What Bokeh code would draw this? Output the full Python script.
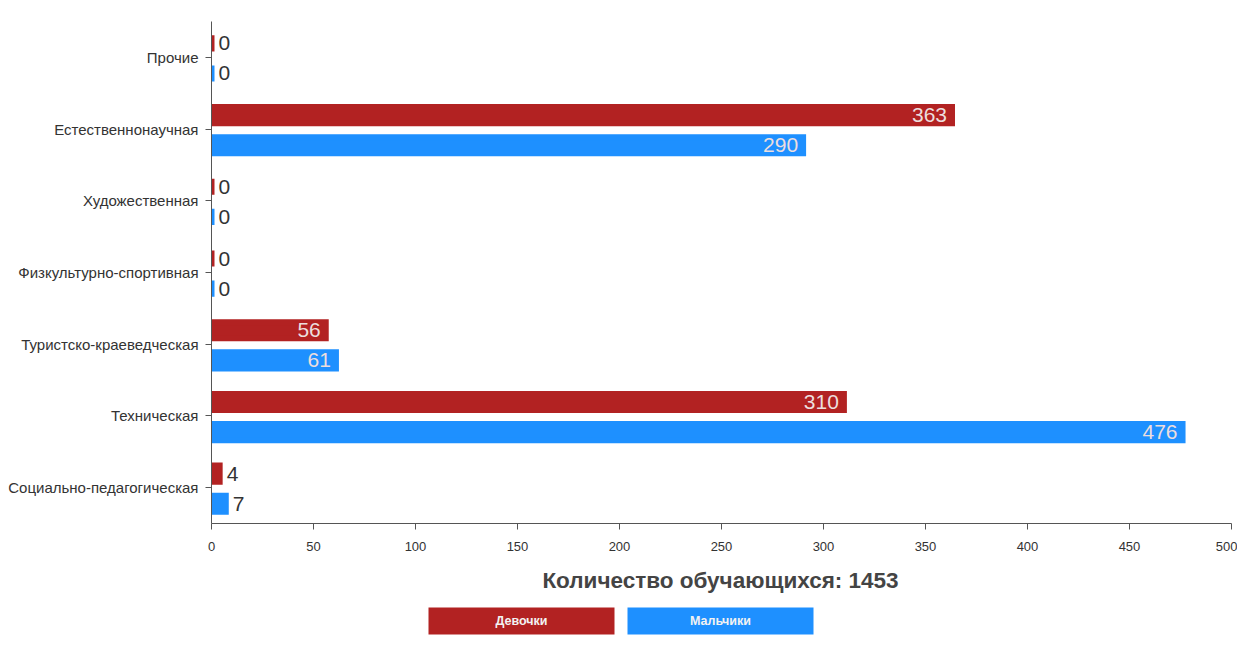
from bokeh.plotting import figure
from bokeh.models import ColumnDataSource, FactorRange, Range1d, FixedTicker
from bokeh.transform import dodge
from bokeh.layouts import column
from bokeh.embed import file_html
from bokeh.resources import INLINE
from bokeh.core.properties import value

# ---------------- data ----------------
categories = ["Прочие", "Естественнонаучная", "Художественная",
              "Физкультурно-спортивная", "Туристско-краеведческая",
              "Техническая", "Социально-педагогическая"]
girls = [0, 363, 0, 0, 56, 310, 4]
boys = [0, 290, 0, 0, 61, 476, 7]
series_names = ["Девочки", "Мальчики"]
series_colors = ["#B22222", "#1E90FF"]
x_ticks = [0, 50, 100, 150, 200, 250, 300, 350, 400, 450, 500]
title_text = "Количество обучающихся: 1453"

FONT = "Liberation Sans"

FRAME_L, FRAME_R = 211, 1231
p = figure(
    y_range=FactorRange(*list(reversed(categories))),
    x_range=Range1d(0, 500),
    width=1237, height=558,
    min_border_left=FRAME_L, min_border_right=1237 - FRAME_R,
    min_border_top=21, min_border_bottom=35,
    output_backend="svg", toolbar_location=None,
)
p.outline_line_color = None
p.xgrid.visible = False
p.ygrid.visible = False

offsets = [0.195, -0.225]
for name, vals, color, off in zip(series_names, [girls, boys], series_colors, offsets):
    inside = [v > 20 for v in vals]
    src = ColumnDataSource(dict(
        cat=categories,
        val=vals,
        label=[str(v) for v in vals],
        align=["right" if i else "left" for i in inside],
        xoff=[-5 if i else 7 for i in inside],
        tcolor=["#ecdede" if i else "#333333" for i in inside],
    ))
    p.hbar(y=dodge("cat", off, range=p.y_range), left=0, right="val", height=0.225,
           source=src, fill_color=color, line_color=color, line_width=6,
           line_join="miter")
    p.text(x="val", y=dodge("cat", off, range=p.y_range), text="label", source=src,
           text_align="align", x_offset="xoff", text_baseline="middle",
           text_color="tcolor", text_font=value(FONT), text_font_size="21px")

for ax in (p.xaxis[0], p.yaxis[0]):
    ax.axis_line_color = "#555555"
    ax.major_tick_line_color = "#555555"
    ax.minor_tick_line_color = None
    ax.major_tick_in = 0
    ax.major_tick_out = 6
    ax.major_label_text_color = "#333333"
    ax.major_label_text_font = FONT

p.xaxis.ticker = FixedTicker(ticks=x_ticks)
p.xaxis.major_label_text_font_size = "13px"
p.xaxis.major_label_standoff = 12
p.yaxis.major_label_text_font_size = "15px"
p.yaxis.major_label_standoff = 7

# ---------- title + legend strip (frame aligned with the main plot) ----------
p2 = figure(width=1237, height=85, x_range=Range1d(FRAME_L, FRAME_R), y_range=Range1d(85, 0),
            x_axis_location=None, y_axis_location=None,
            min_border_left=FRAME_L, min_border_right=1237 - FRAME_R,
            min_border_top=0, min_border_bottom=0,
            output_backend="svg", toolbar_location=None)
p2.outline_line_color = None
p2.xgrid.visible = False
p2.ygrid.visible = False

p2.text(x=[720], y=[22], text=[title_text], text_align="center", text_baseline="middle",
        text_font=value(FONT), text_font_style="bold", text_font_size="22.5px",
        text_color="#444444")

leg = ColumnDataSource(dict(
    x=[521 + 199 * i for i in range(len(series_names))],
    y=[62.5] * len(series_names),
    name=series_names,
    color=series_colors,
))
p2.rect(x="x", y="y", width=186, height=27, source=leg, fill_color="color", line_color=None)
p2.text(x="x", y="y", text="name", source=leg, text_align="center", text_baseline="middle",
        text_font=value(FONT), text_font_style="bold", text_font_size="12.5px",
        text_color="#f2f2f2")

layout = column(p, p2, spacing=0)
open("out.html", "w").write(file_html(layout, INLINE))
